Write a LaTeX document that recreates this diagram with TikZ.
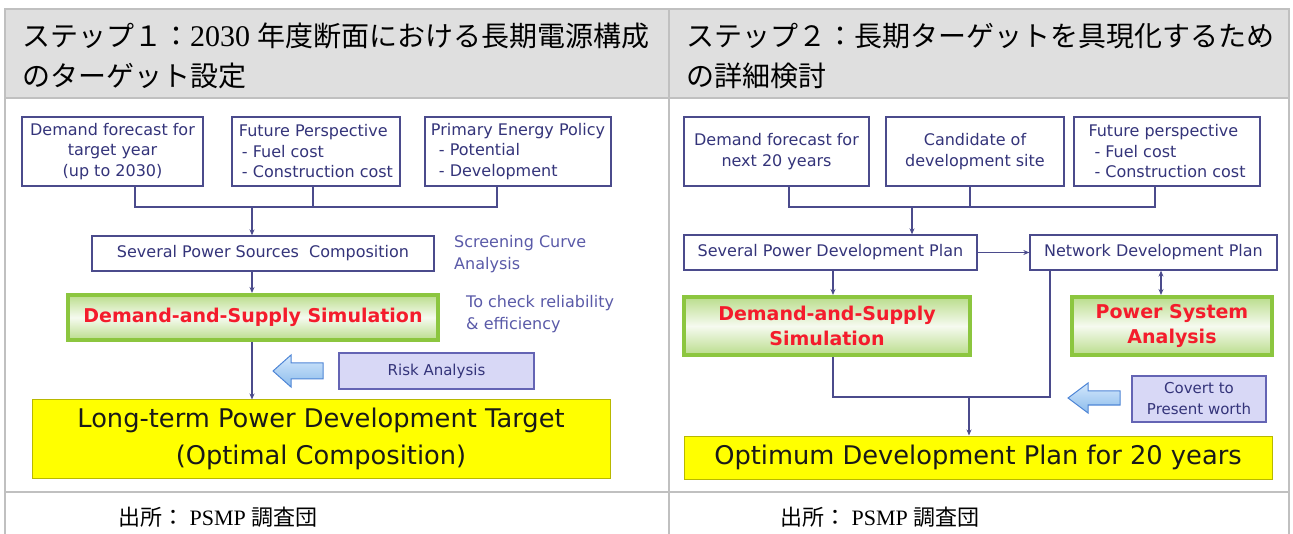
\documentclass[tikz,border=0pt]{standalone}
\usepackage{fontspec}
\setmainfont{Liberation Serif}
\newfontfamily\cjk{Noto Sans CJK JP}
\newfontfamily\dv{DejaVu Sans}
\usetikzlibrary{arrows.meta}
\definecolor{gridc}{HTML}{C0C0C0}
\definecolor{headc}{HTML}{DFDFDF}
\definecolor{navy}{HTML}{4B4B8C}
\definecolor{navytext}{HTML}{34347A}
\definecolor{purtext}{HTML}{5A5AA8}
\definecolor{redt}{HTML}{F41C2C}
\definecolor{gedge}{HTML}{8CC63F}
\definecolor{yel}{HTML}{FFFF00}
\definecolor{yedge}{HTML}{B8B800}
\definecolor{riskf}{HTML}{D8D8F6}
\definecolor{riske}{HTML}{6464B4}
\definecolor{barr}{HTML}{8CBCEC}
\definecolor{barrl}{HTML}{D4E8FC}
\definecolor{barre}{HTML}{4F86D6}
\tikzset{
  box/.style={draw=navy, line width=1.3pt, fill=white, text=navytext,
    font=\dv\fontsize{16}{20.5}\selectfont, align=center, inner sep=0pt},
  gbox/.style={draw=gedge, line width=4pt, top color=gedge!60!white,
    bottom color=gedge!60!white, middle color=gedge!8!white, text=redt,
    font=\dv\bfseries\fontsize{19}{25.5}\selectfont, align=center, inner sep=0pt},
  ybox/.style={draw=yedge, line width=1pt, fill=yel, text=black!90,
    font=\dv\fontsize{25.7}{37}\selectfont, align=center, inner sep=0pt},
  rbox/.style={draw=riske, line width=1.3pt, fill=riskf, text=navytext,
    font=\dv\fontsize{15}{21}\selectfont, align=center, inner sep=0pt},
  note/.style={text=purtext, font=\dv\fontsize{16}{22}\selectfont, align=left,
    anchor=west, inner sep=0pt},
  conn/.style={draw=navy, line width=1.3pt},
  arr/.style={conn, -{Stealth[length=6pt,width=5pt]}},
  arrb/.style={conn, {Stealth[length=6pt,width=5pt]}-{Stealth[length=6pt,width=5pt]}},
  barrow/.style={draw=barre, line width=1pt, top color=barrl, bottom color=barr},
  head/.style={anchor=west, inner sep=0pt, font=\fontsize{28}{28}\selectfont},
  foot/.style={anchor=west, inner sep=0pt, font=\fontsize{22}{22}\selectfont},
}
\begin{document}
\begin{tikzpicture}[x=1pt,y=-1pt]
\useasboundingbox (0,0) rectangle (1293,534);
% table
\fill[headc] (5,9) rectangle (1289,98);
\draw[gridc, line width=2pt] (5,540) -- (5,9) -- (1289,9) -- (1289,540);
\draw[gridc, line width=2pt] (669,9) -- (669,540);
\draw[gridc, line width=2pt] (5,98) -- (1289,98);
\draw[gridc, line width=2pt] (5,492) -- (1289,492);
% headers
\node[head] (h1a) at (22,36) {{\cjk ステップ１：}{\fontsize{30}{30}\selectfont 2030} {\cjk 年度断面における長期電源構成}};
\node[head] (h1b) at (22,76) {{\cjk のターゲット設定}};
\node[head] (h2a) at (686,36) {{\cjk ステップ２：長期ターゲットを具現化するため}};
\node[head] (h2b) at (686,76) {{\cjk の詳細検討}};
% footers
\node[foot] (f1) at (118,517) {{\cjk 出所：} PSMP {\cjk 調査団}};
\node[foot] (f2) at (780,517) {{\cjk 出所：} PSMP {\cjk 調査団}};

% ---------- left diagram ----------
\node[box, minimum width=181pt, minimum height=69pt] (A) at (112.5,151.5)
  {Demand forecast for\\target year\\(up to 2030)};
\node[box, minimum width=168pt, minimum height=69pt, align=left] (B) at (316,151.5)
  {Future Perspective\\\hspace{3pt}- Fuel cost\\\hspace{3pt}- Construction cost};
\node[box, minimum width=186pt, minimum height=69pt, align=left] (C) at (518,151.5)
  {Primary Energy Policy\\\hspace{8pt}- Potential\\\hspace{8pt}- Development};
\node[box, minimum width=342pt, minimum height=35pt] (D) at (263,253.5)
  {Several Power Sources\ \ Composition};
\node[note] (scr) at (454,254) {Screening Curve\\Analysis};
\node[gbox, minimum width=370pt, minimum height=45pt] (E) at (253,317.5)
  {Demand-and-Supply Simulation};
\node[note] (chk) at (466,314) {To check reliability\\\& efficiency};
\node[rbox, minimum width=195pt, minimum height=36pt] (R) at (436.5,371) {Risk Analysis};
\node[ybox, minimum width=578pt, minimum height=78pt] (F) at (321,439)
  {Long-term Power Development Target\\(Optimal Composition)};
\path[barrow] (273,371) -- (291,355) -- (291,363) -- (323,363) -- (323,379)
  -- (291,379) -- (291,387) -- cycle;

\coordinate (lb1) at (135,207);
\coordinate (lb2) at (313,207);
\coordinate (lb3) at (497,207);
\coordinate (ld) at (252,207);
\draw[conn] (lb1 |- A.south) -- (lb1) -- (lb3) -- (lb3 |- C.south);
\draw[conn] (lb2 |- B.south) -- (lb2);
\draw[arr] (ld) -- (ld |- D.north);
\draw[arr] (ld |- D.south) -- (ld |- E.north);
\draw[arr] (ld |- E.south) -- (ld |- F.north);

% ---------- right diagram ----------
\node[box, minimum width=185pt, minimum height=69pt] (G) at (776.5,151.5)
  {Demand forecast for\\next 20 years};
\node[box, minimum width=178pt, minimum height=69pt] (H) at (975,151.5)
  {Candidate of\\development site};
\node[box, minimum width=186pt, minimum height=69pt, align=left] (I) at (1167,151.5)
  {Future perspective\\\hspace{6pt}- Fuel cost\\\hspace{6pt}- Construction cost};
\node[box, minimum width=293pt, minimum height=35pt] (J) at (830.5,252.5)
  {Several Power Development Plan};
\node[box, minimum width=247pt, minimum height=35pt] (K) at (1153.5,252.5)
  {Network Development Plan};
\node[gbox, minimum width=286pt, minimum height=58pt] (L) at (827,326)
  {Demand-and-Supply\\Simulation};
\node[gbox, minimum width=200pt, minimum height=58pt] (M) at (1172,326)
  {Power System\\Analysis};
\node[rbox, minimum width=134pt, minimum height=46pt] (P) at (1199,399)
  {Covert to\\Present worth};
\node[ybox, minimum width=588pt, minimum height=43pt] (N) at (978,457.5)
  {Optimum Development Plan for 20 years};
\path[barrow] (1068,398) -- (1088,383) -- (1088,391) -- (1120,391) -- (1120,405)
  -- (1088,405) -- (1088,413) -- cycle;

\coordinate (rb1) at (789,207);
\coordinate (rb2) at (970,207);
\coordinate (rb3) at (1155,207);
\coordinate (rd) at (912,207);
\draw[conn] (rb1 |- G.south) -- (rb1) -- (rb3) -- (rb3 |- I.south);
\draw[conn] (rb2 |- H.south) -- (rb2);
\draw[arr] (rd) -- (rd |- J.north);
\draw[arr] (J.east) -- (K.west);
\coordinate (jl) at (833,0);
\draw[arr] (jl |- J.south) -- (jl |- L.north);
\coordinate (km) at (1161,0);
\draw[arrb] (km |- K.south) -- (km |- M.north);
\coordinate (j1) at (833,397);
\coordinate (j2) at (1050,397);
\draw[conn] (j1 |- L.south) -- (j1) -- (j2) -- (j2 |- K.south);
\coordinate (jn) at (969,397);
\draw[arr] (jn) -- (jn |- N.north);
\end{tikzpicture}
\end{document}
